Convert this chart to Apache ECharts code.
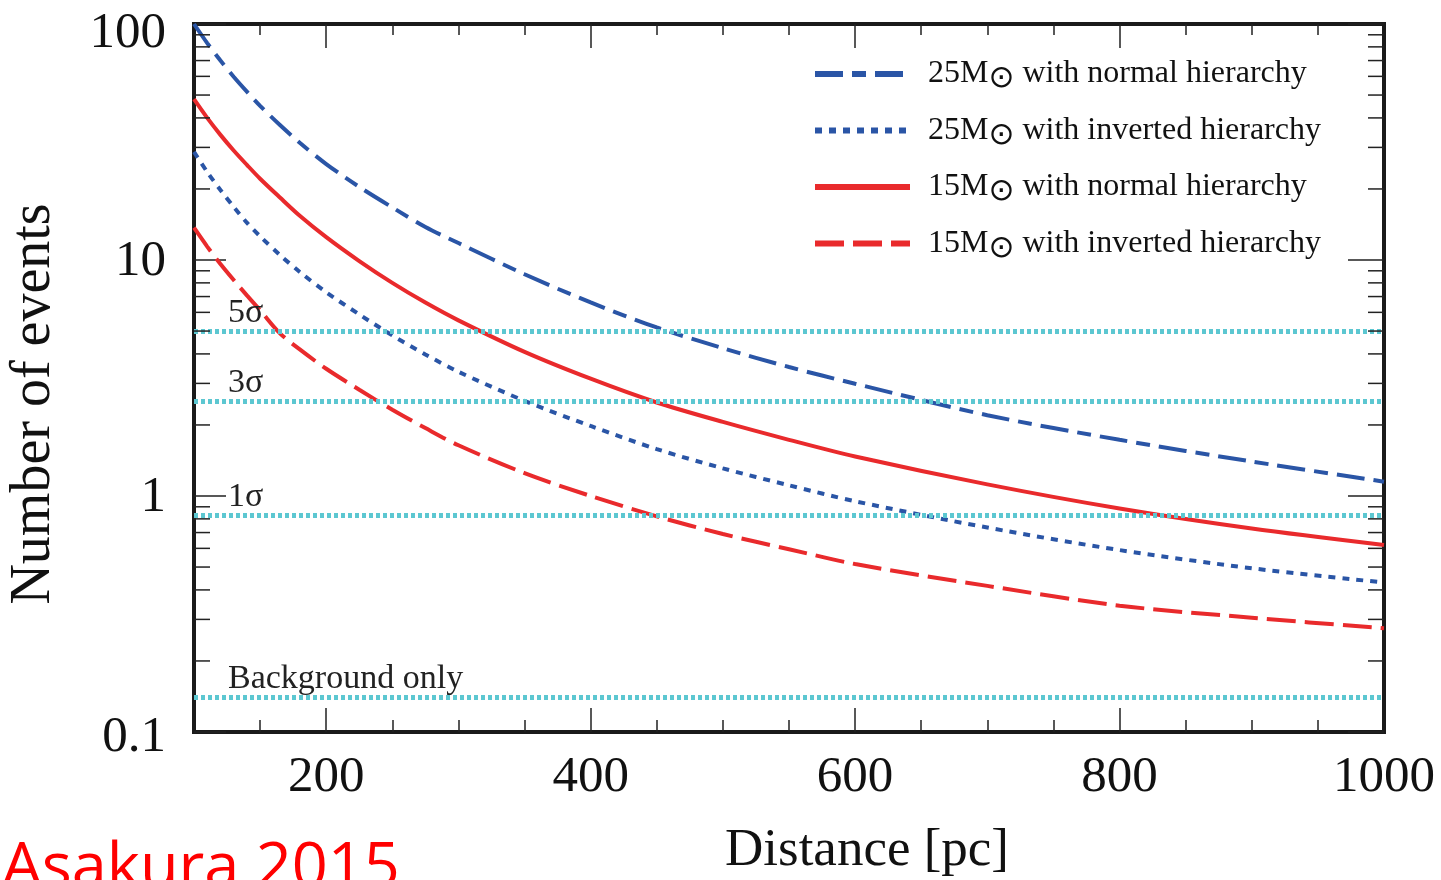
<!DOCTYPE html>
<html>
<head>
<meta charset="utf-8">
<style>
html, body { margin: 0; padding: 0; background: #fff; overflow: hidden; }
#main { width: 1441px; height: 880px; }
</style>
<script src="https://cdn.jsdelivr.net/npm/echarts@6/dist/echarts.min.js"></script>
</head>
<body>
<div id="main"></div>
<script>
// distance [pc] and number of events
var distances = [100, 110, 120, 130, 140, 150, 165, 180, 200, 225, 250, 275, 300, 350, 400, 450, 500, 550, 600, 700, 800, 900, 1000];
var m25Normal = [100, 83, 70, 59.8, 51.7, 45, 37.3, 31.4, 25.5, 20.4, 16.7, 13.8, 11.8, 8.7, 6.61, 5.18, 4.23, 3.52, 2.99, 2.2, 1.73, 1.4, 1.15];
var m25Inverted = [28.7, 23.6, 19.8, 16.8, 14.4, 12.6, 10.5, 8.9, 7.3, 5.88, 4.79, 3.98, 3.36, 2.53, 1.98, 1.58, 1.31, 1.11, 0.95, 0.735, 0.59, 0.494, 0.43];
var m15Normal = [48, 40, 33.9, 29.1, 25.3, 22.1, 18.4, 15.4, 12.5, 9.9, 8.0, 6.6, 5.55, 4.08, 3.14, 2.49, 2.06, 1.73, 1.47, 1.12, 0.885, 0.728, 0.62];
var m15Inverted = [13.7, 11.4, 9.62, 8.23, 7.08, 6.12, 4.89, 4.18, 3.46, 2.82, 2.32, 1.94, 1.64, 1.25, 1.0, 0.82, 0.69, 0.595, 0.515, 0.416, 0.343, 0.305, 0.275];

var seriesNames = [
    '25M⊙ with normal hierarchy',
    '25M⊙ with inverted hierarchy',
    '15M⊙ with normal hierarchy',
    '15M⊙ with inverted hierarchy'
];

// significance levels
var levelNames = ['5σ', '3σ', '1σ', 'Background only'];
var levelValues = [5.0, 2.53, 0.83, 0.142];

// ticks
var xMin = 100, xMax = 1000;
var xMajorTicks = [200, 400, 600, 800];
var xLabels = [200, 400, 600, 800, 1000];
var xMinorTicks = [150, 250, 300, 350, 450, 500, 550, 650, 700, 750, 850, 900, 950];
var yMinorTicks = [0.2, 0.3, 0.4, 0.5, 0.6, 0.7, 0.8, 0.9, 2, 3, 4, 5, 6, 7, 8, 9, 20, 30, 40, 50, 60, 70, 80, 90];

var BLUE = '#2a55a6';
var RED = '#e92a2c';
var CYAN = '#5cc7d1';
var INK = '#222';
var SERIF = '"Liberation Serif", "DejaVu Serif", serif';

function pairs(ys) {
    return distances.map(function (d, i) { return [d, ys[i]]; });
}

function curve(name, ys, color, type) {
    return {
        type: 'line',
        name: name,
        data: pairs(ys),
        symbol: 'none',
        smooth: 0.3,
        z: 4,
        lineStyle: { color: color, width: 4, type: type },
        itemStyle: { color: color }
    };
}

var myChart = echarts.init(document.getElementById('main'));

var tickStyle = { color: INK, width: 1.5 };
var labelFont = { fontSize: 51, color: '#111', fontFamily: SERIF };

option = {
    animation: false,
    textStyle: { fontFamily: SERIF },
    grid: {
        left: 194, right: 57, top: 24, bottom: 148,
        show: true, borderColor: '#1a1a1a', borderWidth: 4,
        containLabel: false,
        outerBoundsMode: 'none'
    },
    legend: {
        orient: 'vertical',
        left: 807, top: 51,
        itemWidth: 95, itemHeight: 14, itemGap: 18,
        data: seriesNames,
        lineStyle: { width: 6 },
        itemStyle: { opacity: 0 },
        textStyle: {
            fontFamily: SERIF, fontSize: 32, color: '#111', lineHeight: 36,
            padding: [0, 0, 0, 13],
            rich: { sun: { fontSize: 31, fontFamily: '"DejaVu Sans", sans-serif', padding: [10, 0, 0, 0] } }
        },
        formatter: function (name) {
            return name.replace('⊙', '{sun|⊙}');
        }
    },
    xAxis: [
        {
            type: 'value', position: 'bottom', min: xMin, max: xMax, interval: 50,
            axisLine: { show: false },
            axisTick: { inside: true, length: 24, customValues: xMajorTicks, lineStyle: tickStyle },
            axisLabel: {
                customValues: xLabels, fontSize: 51, color: '#111', margin: 20, fontFamily: SERIF,
                formatter: function (v) { return String(v); }
            },
            splitLine: { show: false },
            name: 'Distance [pc]', nameLocation: 'middle', nameGap: 93,
            nameTextStyle: { fontSize: 53, color: '#111', fontFamily: SERIF, padding: [0, 0, 0, 156] }
        },
        {
            type: 'value', position: 'bottom', min: xMin, max: xMax, interval: 50,
            axisLine: { show: false },
            axisTick: { inside: true, length: 12, customValues: xMinorTicks, lineStyle: tickStyle },
            axisLabel: { show: false },
            splitLine: { show: false }
        },
        {
            type: 'value', position: 'top', min: xMin, max: xMax, interval: 50,
            axisLine: { show: false },
            axisTick: { inside: true, length: 24, customValues: xMajorTicks, lineStyle: tickStyle },
            axisLabel: { show: false },
            splitLine: { show: false }
        },
        {
            type: 'value', position: 'top', min: xMin, max: xMax, interval: 50,
            axisLine: { show: false },
            axisTick: { inside: true, length: 11, customValues: xMinorTicks, lineStyle: tickStyle },
            axisLabel: { show: false },
            splitLine: { show: false }
        }
    ],
    yAxis: [
        {
            type: 'log', logBase: 10, min: 0.1, max: 100, position: 'left',
            axisLine: { show: false },
            axisTick: { inside: true, length: 32, lineStyle: tickStyle },
            axisLabel: {
                fontSize: 51, color: '#111', margin: 28, fontFamily: SERIF,
                formatter: function (v) {
                    if (Math.abs(v - 100) < 1e-6) return '{hi|100}';
                    if (Math.abs(v - 0.1) < 1e-9) return '{lo|0.1}';
                    return '{mid|' + v + '}';
                },
                rich: {
                    hi: Object.assign({ padding: [20, 0, 0, 0] }, labelFont),
                    lo: Object.assign({ padding: [12, 0, 0, 0] }, labelFont),
                    mid: Object.assign({ padding: [4, 0, 0, 0] }, labelFont)
                }
            },
            splitLine: { show: false },
            name: 'Number of events', nameLocation: 'middle', nameGap: 132, nameRotate: 90,
            nameTextStyle: { fontSize: 56, color: '#111', fontFamily: SERIF, padding: [0, 52, 0, 0] }
        },
        {
            type: 'log', logBase: 10, min: 0.1, max: 100, position: 'right',
            axisLine: { show: false },
            axisTick: { inside: true, length: 36, lineStyle: tickStyle },
            axisLabel: { show: false },
            splitLine: { show: false }
        }
    ],
    graphic: [
        {
            type: 'text', left: 2, top: 838,
            style: { text: 'Asakura 2015', fill: '#ff0000', font: '63px "Open Sans", "Noto Sans", sans-serif' }
        }
    ],
    series: [
        {
            type: 'line',
            name: 'levels',
            data: [],
            z: 2,
            markLine: {
                silent: true,
                symbol: 'none',
                lineStyle: { color: CYAN, width: 5, type: [4, 3] },
                label: {
                    show: true, position: 'insideStartTop', formatter: '{b}',
                    fontFamily: SERIF, fontSize: 34, color: '#222',
                    padding: [0, 0, 0, 33], distance: 1
                },
                data: levelValues.map(function (v, i) {
                    return { name: levelNames[i], yAxis: v };
                })
            }
        },
        curve(seriesNames[0], m25Normal, BLUE, [28, 9, 14, 9]),
        curve(seriesNames[1], m25Inverted, BLUE, [7, 7]),
        curve(seriesNames[2], m15Normal, RED, 'solid'),
        curve(seriesNames[3], m15Inverted, RED, [29, 9]),
        {
            // log minor ticks on the left and right frame
            type: 'custom',
            name: 'minorTicks',
            silent: true,
            z: 6,
            clip: false,
            data: yMinorTicks.map(function (v) { return [xMin, v]; }),
            renderItem: function (params, api) {
                var l = api.coord([xMin, api.value(1)]);
                var r = api.coord([xMax, api.value(1)]);
                return {
                    type: 'group',
                    children: [
                        { type: 'line', shape: { x1: l[0], y1: l[1], x2: l[0] + 16, y2: l[1] }, style: { stroke: INK, lineWidth: 1.5 } },
                        { type: 'line', shape: { x1: r[0] - 16, y1: r[1], x2: r[0], y2: r[1] }, style: { stroke: INK, lineWidth: 1.5 } }
                    ]
                };
            }
        }
    ]
};

myChart.setOption(option);
</script>
</body>
</html>
